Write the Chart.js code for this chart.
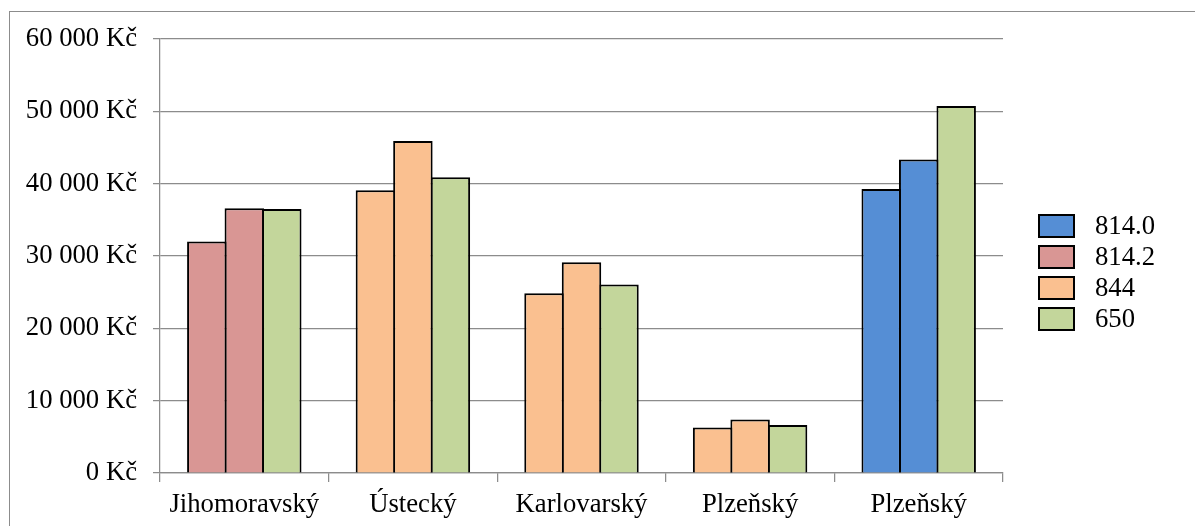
<!DOCTYPE html>
<html lang="cs">
<head>
<meta charset="utf-8">
<title>Kraje – náklady</title>
<script src="https://cdn.jsdelivr.net/npm/chart.js@4.4.1/dist/chart.umd.min.js"></script>
<style>
  html, body { margin: 0; padding: 0; background: #fff; overflow: hidden; }
  #wrap { position: relative; width: 1195px; height: 526px; }
  #frame {
    position: absolute; left: 9px; top: 11px; width: 1300px; height: 600px;
    border-top: 1.5px solid #8c8c8c; border-left: 1.5px solid #8c8c8c;
  }
  #chart { position: absolute; left: 0; top: 0; }
  #legend {
    position: absolute; left: 1038px; top: 210px;
    font: 26.7px "Liberation Serif", "Times New Roman", serif; color: #000;
  }
  .item { display: flex; align-items: center; height: 31px; }
  .swatch {
    width: 37px; height: 24px; box-sizing: border-box;
    border: 2px solid #000; margin-right: 20px;
  }
</style>
</head>
<body>
<div id="wrap">
  <div id="frame"></div>
  <canvas id="chart" width="1195" height="526"></canvas>
  <div id="legend"></div>
</div>
<script>
// regions on the x axis, two bars of the region's own code plus one bar of 650
const regions = ["Jihomoravský", "Ústecký", "Karlovarský", "Plzeňský", "Plzeňský"];
const regionCodes = ["814.2", "844", "844", "844", "814.0"];
const firstBar = [32000, 39100, 24850, 6300, 39250];
const secondBar = [36600, 45900, 29150, 7400, 43350];
const bar650 = [36500, 40900, 26050, 6650, 50750];

// legend entries and their fill colours
const legendCodes = ["814.0", "814.2", "844", "650"];
const codeColors = ["#558ED5", "#D99694", "#FAC090", "#C3D69B"];

const gridColor = "#8c8c8c";
const colorFor = (code) => codeColors[legendCodes.indexOf(code)];

Chart.defaults.font.family = '"Liberation Serif", "Times New Roman", serif';
Chart.defaults.font.size = 26.7;
Chart.defaults.color = "#000";

// bars slightly wider than their slot so neighbours share one border line
const barStyle = {
  borderColor: "#000",
  borderWidth: 2,
  barPercentage: 1.053,
  categoryPercentage: 0.667,
};

const kc = (value) =>
  String(value).replace(/\B(?=(\d{3})+(?!\d))/g, " ") + " Kč";

const ctx = document.getElementById("chart").getContext("2d");
const chart = new Chart(ctx, {
  type: "bar",
  data: {
    labels: regions,
    datasets: [
      { label: "první", data: firstBar, backgroundColor: regionCodes.map(colorFor), ...barStyle },
      { label: "druhý", data: secondBar, backgroundColor: regionCodes.map(colorFor), ...barStyle },
      { label: "650", data: bar650, backgroundColor: colorFor("650"), ...barStyle },
    ],
  },
  options: {
    responsive: false,
    animation: false,
    layout: { padding: { left: 0, top: 39, right: 192, bottom: 0 } },
    scales: {
      x: {
        grid: {
          offset: true,
          drawOnChartArea: false,
          tickLength: 9,
          color: gridColor,
          lineWidth: 1.25,
        },
        border: { color: gridColor, width: 1.25 },
        ticks: { padding: 7, maxRotation: 0, autoSkip: false },
        afterFit: (scale) => { scale.height = 53; },
      },
      y: {
        min: 0,
        max: 60000,
        ticks: { stepSize: 10000, padding: 16, callback: kc },
        grid: { color: gridColor, lineWidth: 1.25, tickLength: 7 },
        border: { color: gridColor, width: 1.25 },
        afterFit: (scale) => { scale.width = 160; },
      },
    },
    plugins: {
      legend: { display: false },
      tooltip: { enabled: false },
    },
  },
});

// legend built as html next to the plot
const legendEl = document.getElementById("legend");
legendCodes.forEach((code, i) => {
  const item = document.createElement("div");
  item.className = "item";
  const swatch = document.createElement("span");
  swatch.className = "swatch";
  swatch.style.background = codeColors[i];
  const text = document.createElement("span");
  text.textContent = code;
  item.appendChild(swatch);
  item.appendChild(text);
  legendEl.appendChild(item);
});
</script>
</body>
</html>
